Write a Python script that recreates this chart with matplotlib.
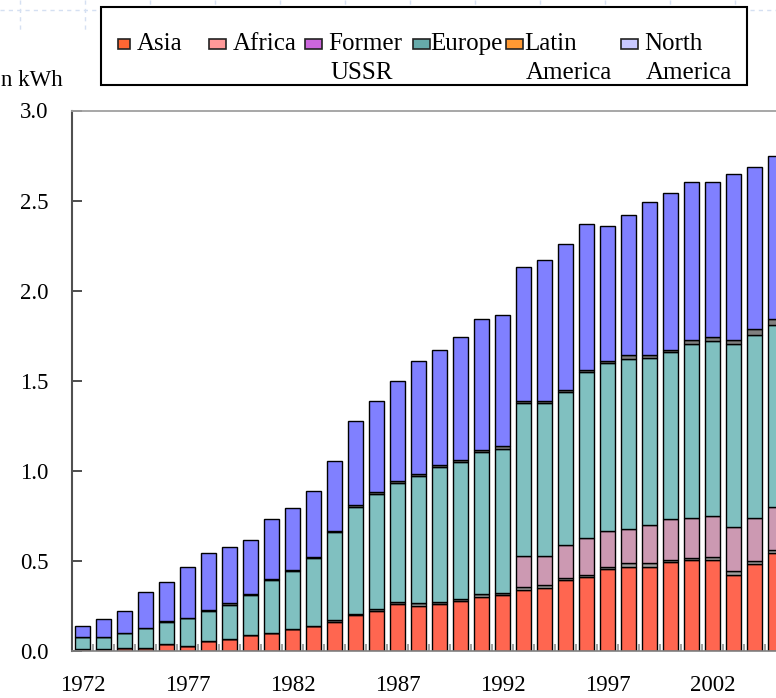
import numpy as np
import matplotlib.pyplot as plt
from matplotlib.patches import Rectangle
from matplotlib.lines import Line2D

plt.rcParams['font.family'] = ['Liberation Serif', 'DejaVu Serif']

# Nuclear generation by region, trillion kWh
years = list(range(1972, 2006))
asia = [0.010, 0.010, 0.018, 0.018, 0.039, 0.028, 0.057, 0.068, 0.089, 0.100,
        0.121, 0.139, 0.161, 0.200, 0.222, 0.261, 0.252, 0.263, 0.279, 0.302,
        0.310, 0.339, 0.348, 0.392, 0.409, 0.455, 0.469, 0.469, 0.492, 0.505,
        0.505, 0.420, 0.483, 0.545]
africa = [0, 0, 0, 0, 0, 0, 0, 0, 0, 0,
          0, 0, 0.011, 0.008, 0.009, 0.009, 0.013, 0.009, 0.011, 0.013,
          0.014, 0.015, 0.017, 0.015, 0.015, 0.013, 0.017, 0.017, 0.013, 0.013,
          0.014, 0.026, 0.017, 0.015]
former_ussr = [0] * 21 + [0.173, 0.162, 0.182, 0.204, 0.200, 0.193, 0.212,
                          0.225, 0.222, 0.232, 0.243, 0.240, 0.240]
europe = [0.068, 0.068, 0.082, 0.110, 0.120, 0.153, 0.165, 0.186, 0.222, 0.294,
          0.323, 0.377, 0.487, 0.589, 0.639, 0.660, 0.706, 0.749, 0.760, 0.788,
          0.797, 0.847, 0.847, 0.847, 0.919, 0.929, 0.940, 0.931, 0.928, 0.962,
          0.969, 1.013, 1.012, 1.012]
latin_america = [0, 0, 0, 0, 0.008, 0.004, 0.004, 0.010, 0.004, 0.005,
                 0.005, 0.006, 0.007, 0.013, 0.013, 0.012, 0.010, 0.011, 0.012, 0.012,
                 0.015, 0.014, 0.014, 0.014, 0.014, 0.014, 0.024, 0.014, 0.015, 0.022,
                 0.022, 0.022, 0.033, 0.033]
north_america = [0.062, 0.102, 0.122, 0.198, 0.218, 0.283, 0.320, 0.315, 0.301, 0.332,
                 0.342, 0.368, 0.387, 0.466, 0.506, 0.558, 0.630, 0.638, 0.679, 0.729,
                 0.727, 0.741, 0.780, 0.810, 0.810, 0.747, 0.777, 0.848, 0.870, 0.880,
                 0.862, 0.921, 0.903, 0.901]

region_names = ['Asia', 'Africa', 'Former\nUSSR', 'Europe', 'Latin\nAmerica', 'North\nAmerica']
tick_years = [1972, 1977, 1982, 1987, 1992, 1997, 2002]
unit_label = 'n kWh'  # left part of the unit label is cut off in the original

W, H = 776, 698
fig = plt.figure(figsize=(W / 100, H / 100), dpi=100)

# faint slide-template grid at the top
for xp in range(20, W, 65):
    fig.add_artist(Line2D([xp / W, xp / W], [1, 1 - 32 / H], color='#D5E0F2',
                          lw=1, ls=(0, (3, 3))))
fig.add_artist(Line2D([0, 1], [1 - 10 / H, 1 - 10 / H], color='#D5E0F2', lw=1, ls=(0, (3, 3))))

ax = fig.add_axes([72 / W, 47 / H, 714 / W, 540.5 / H])

series = [asia, africa, former_ussr, europe, latin_america, north_america]
bar_colors = ['#FF6650', '#A0A0A0', '#CC99B2', '#80C0C0', '#808080', '#8080FF']
x = np.arange(len(years))
bottom = np.zeros(len(years))
for vals, col in zip(series, bar_colors):
    vals = np.array(vals)
    ax.bar(x, vals, 0.7, bottom=bottom, color=col, edgecolor='black', linewidth=1.0)
    bottom += vals

ax.set_xlim(-0.5, len(years) - 0.5)
ax.set_ylim(0, 3.0)
ax.set_yticks(np.arange(0, 3.01, 0.5))
ax.set_yticklabels([f'{v:.1f}' for v in np.arange(0, 3.01, 0.5)])
ax.set_xticks([years.index(y) for y in tick_years])
ax.set_xticklabels([str(y) for y in tick_years])
ax.set_xticks(np.arange(-0.5, len(years), 1), minor=True)

ax.tick_params(axis='y', direction='in', length=7, width=1.3, color='#404040',
               labelsize=16.5, pad=17)
ax.tick_params(axis='x', which='major', length=0, labelsize=16.5, pad=17)
ax.tick_params(axis='x', which='minor', direction='in', length=5, width=1.2, color='#909090')

ax.spines['left'].set_color('#505050')
ax.spines['left'].set_linewidth(1.5)
ax.spines['top'].set_color('#A0A0A0')
ax.spines['top'].set_linewidth(1.3)
ax.spines['bottom'].set_color('#808080')
ax.spines['bottom'].set_linewidth(1.2)
ax.spines['right'].set_visible(False)

fig.text(1 / W, 1 - 81 / H, unit_label, ha='left', va='center', fontsize=16.5)

# legend drawn by hand to follow the original layout
fig.add_artist(Rectangle((101 / W, 1 - 85 / H), 646 / W, 78 / H, transform=fig.transFigure,
                         facecolor='white', edgecolor='black', linewidth=1.5, zorder=3))
icon_colors = ['#FF6633', '#FF9999', '#CC66DD', '#66AAAA', '#FF9933', '#C8C8FF']
icon_x = [118, 209, 305, 413, 506, 621]
icon_w = [12, 17, 17, 17, 17, 17]
text_x = [137, 233, 328, 430, 524, 644]
for name, col, ix, iw, tx in zip(region_names, icon_colors, icon_x, icon_w, text_x):
    fig.add_artist(Rectangle((ix / W, 1 - 49 / H), iw / W, 10 / H, transform=fig.transFigure,
                             facecolor=col, edgecolor='#222222', linewidth=1.2, zorder=4))
    lines = name.split('\n')
    fig.text(tx / W, 1 - 44 / H, lines[0], ha='left', va='center', fontsize=18, zorder=5)
    if len(lines) > 1:
        fig.text((tx + 2) / W, 1 - 73 / H, lines[1], ha='left', va='center', fontsize=18, zorder=5)

fig.savefig('out.png', dpi=100)
